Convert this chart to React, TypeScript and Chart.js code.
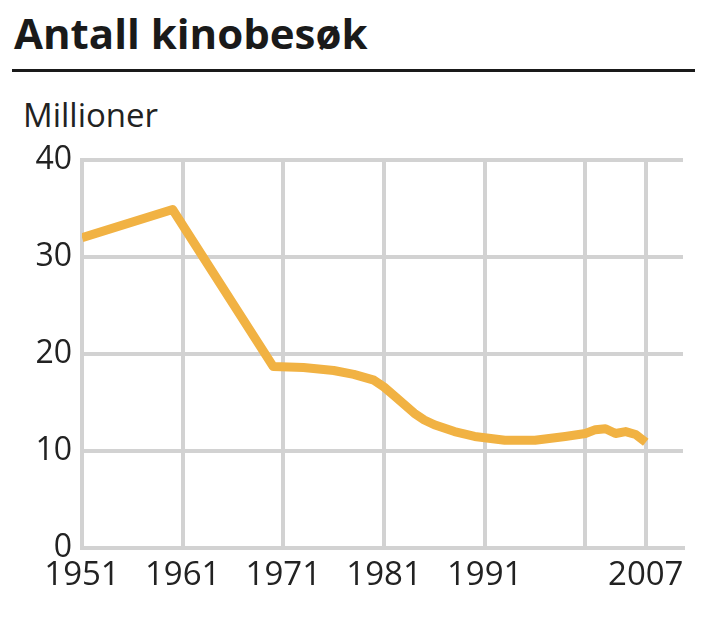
import React, { useEffect, useRef } from "react";
import { Chart, registerables } from "chart.js";

Chart.register(...registerables);

const TITLE = "Antall kinobesøk";
const UNIT = "Millioner";
const YEARS = [1951, 1960, 1970, 1973, 1976, 1978, 1980, 1981, 1982, 1983, 1984, 1985, 1986, 1988, 1990, 1993, 1996, 1999, 2001, 2002, 2003, 2004, 2005, 2006, 2007];
const VISITS = [32.0, 34.9, 18.7, 18.6, 18.3, 17.9, 17.3, 16.6, 15.7, 14.8, 13.9, 13.2, 12.7, 12.0, 11.5, 11.1, 11.1, 11.5, 11.8, 12.2, 12.3, 11.8, 12.0, 11.7, 10.9];
const X_TICKS = [1951, 1961, 1971, 1981, 1991, 2001, 2007];
const X_LABELS = ["1951", "1961", "1971", "1981", "1991", "", "2007"];
const Y_TICKS = [0, 10, 20, 30, 40];

const GRID = "#d2d2d2";
const LINE = "#f1b243";
const TEXT = "#222222";
const FONT = "'Open Sans', sans-serif";

export default function App() {
  const ref = useRef<HTMLCanvasElement | null>(null);

  useEffect(() => {
    document.body.style.margin = "0";
    const canvas = ref.current;
    if (!canvas) return;
    const chart = new Chart(canvas, {
      type: "line",
      data: {
        datasets: [
          {
            data: YEARS.map((y, i) => ({ x: y, y: VISITS[i] })),
            borderColor: LINE,
            borderWidth: 9,
            pointRadius: 0,
            tension: 0,
            borderCapStyle: "butt",
            borderJoinStyle: "round",
            fill: false,
          },
        ],
      },
      options: {
        animation: false,
        responsive: false,
        maintainAspectRatio: false,
        layout: { padding: { left: 0, right: 23, top: 160, bottom: 0 } },
        plugins: { legend: { display: false }, tooltip: { enabled: false } },
        scales: {
          x: {
            type: "linear",
            min: 1951,
            max: 2010.7,
            afterBuildTicks: (scale: any) => {
              scale.ticks = X_TICKS.map((v) => ({ value: v }));
            },
            afterFit: (scale: any) => {
              scale.height = 71;
            },
            grid: { color: GRID, lineWidth: 4, drawTicks: false },
            border: { display: true, color: GRID, width: 4 },
            ticks: {
              padding: 8,
              maxRotation: 0,
              autoSkip: false,
              color: TEXT,
              font: { family: FONT, size: 33 },
              callback: (v: any) => {
                const i = X_TICKS.indexOf(Number(v));
                return i >= 0 ? X_LABELS[i] : "";
              },
            },
          },
          y: {
            type: "linear",
            min: 0,
            max: 40,
            afterBuildTicks: (scale: any) => {
              scale.ticks = Y_TICKS.map((v) => ({ value: v }));
            },
            afterFit: (scale: any) => {
              scale.width = 82;
            },
            grid: { color: GRID, lineWidth: 4, drawTicks: false },
            border: { display: true, color: GRID, width: 4 },
            ticks: {
              padding: 10,
              color: TEXT,
              font: { family: FONT, size: 32 },
            },
          },
        },
      },
    });
    return () => chart.destroy();
  }, []);

  return (
    <div style={{ position: "relative", width: 706, height: 619, background: "#fff", overflow: "hidden" }}>
      <div
        style={{
          position: "absolute",
          left: 14,
          top: 4,
          fontFamily: FONT,
          fontWeight: 700,
          fontSize: 42,
          lineHeight: "57.2px",
          color: "#1a1a1a",
          whiteSpace: "nowrap",
        }}
      >
        {TITLE}
      </div>
      <div style={{ position: "absolute", left: 12, top: 69, width: 683, height: 3, background: "#1a1a1a" }} />
      <div
        style={{
          position: "absolute",
          left: 23,
          top: 93,
          fontFamily: FONT,
          fontSize: 33,
          lineHeight: "44.9px",
          color: TEXT,
          whiteSpace: "nowrap",
        }}
      >
        {UNIT}
      </div>
      <canvas ref={ref} width={706} height={619} style={{ position: "absolute", left: 0, top: 0 }} />
    </div>
  );
}
